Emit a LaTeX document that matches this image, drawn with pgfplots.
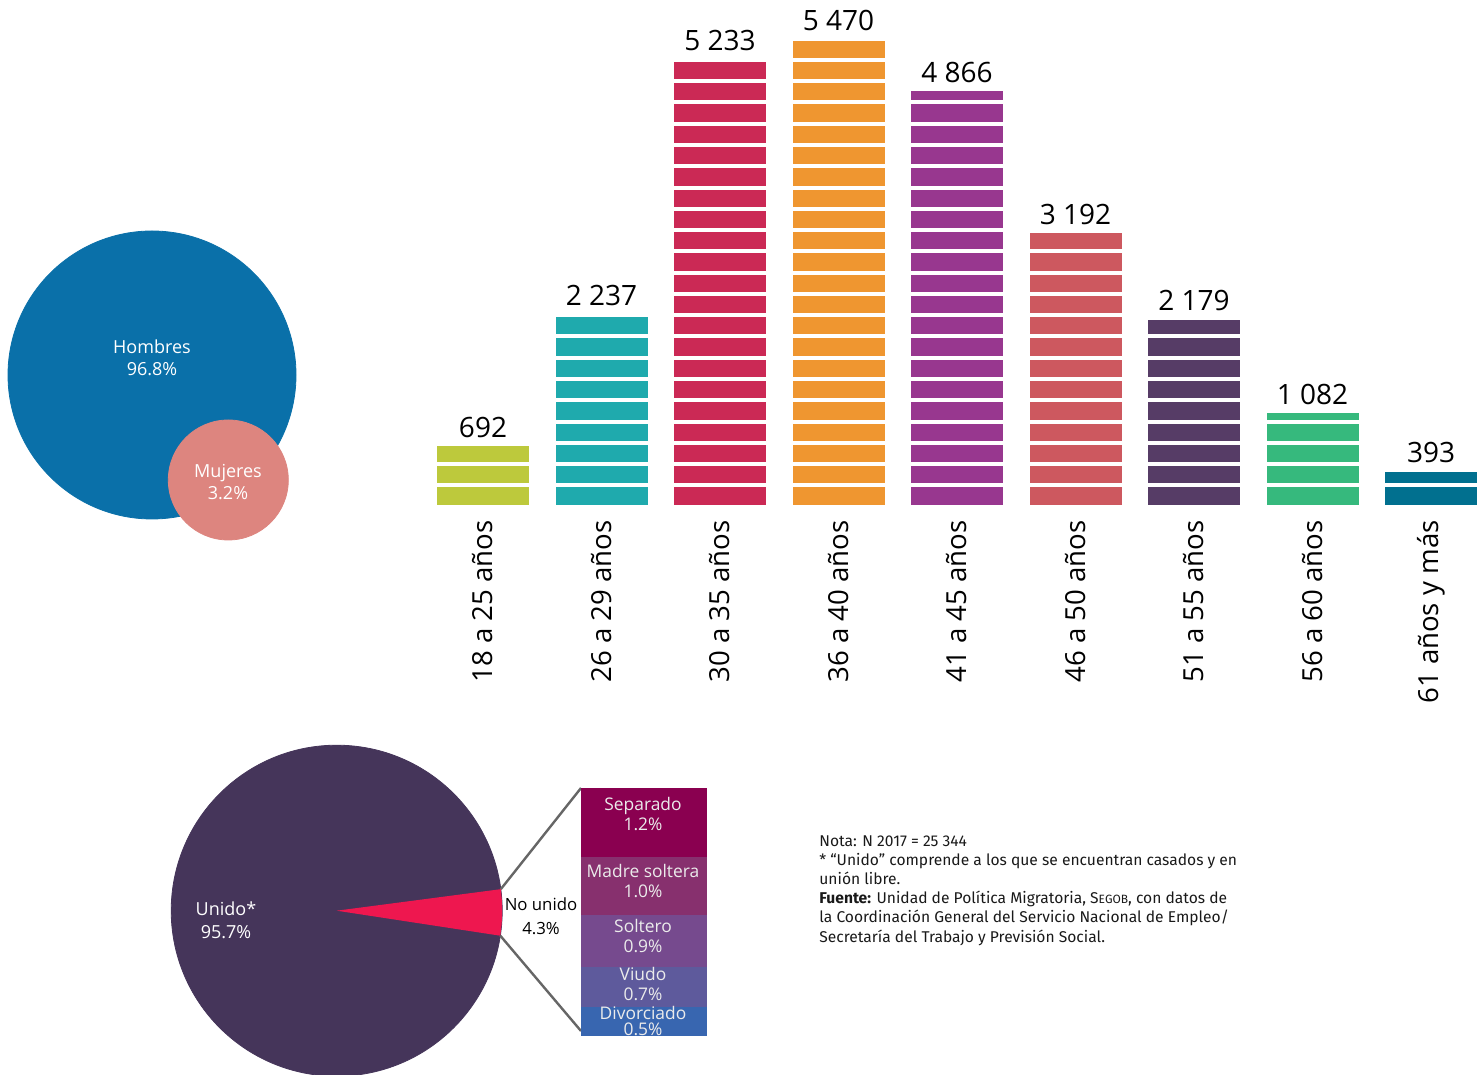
\documentclass[border=0pt]{standalone}
\usepackage{pgfplots}
\pgfplotsset{compat=1.18}
\usepackage{fontspec}
\setmainfont{Open Sans}
\newfontfamily\notefont{Fira Sans}
\definecolor{cA}{HTML}{BDC93C}
\definecolor{cB}{HTML}{1FAAAD}
\definecolor{cC}{HTML}{CB2955}
\definecolor{cD}{HTML}{EF9630}
\definecolor{cE}{HTML}{98378F}
\definecolor{cF}{HTML}{CD585F}
\definecolor{cG}{HTML}{563C66}
\definecolor{cH}{HTML}{36B97D}
\definecolor{cI}{HTML}{01708F}
\definecolor{hom}{HTML}{0A70A9}
\definecolor{muj}{HTML}{DD857F}
\definecolor{pie}{HTML}{45355A}
\definecolor{wedge}{HTML}{EE174F}
\definecolor{sSep}{HTML}{8A0050}
\definecolor{sMad}{HTML}{87306E}
\definecolor{sSol}{HTML}{764A8E}
\definecolor{sViu}{HTML}{5E5A9C}
\definecolor{sDiv}{HTML}{3866B0}
\begin{document}
\begin{tikzpicture}
\path[use as bounding box] (0,0) rectangle (741pt,537.5pt);
% ---------- base axis in pixel coordinates ----------
\begin{axis}[at={(0pt,0pt)}, anchor=south west, scale only axis,
  width=741pt, height=537.5pt, xmin=0, xmax=1482, ymin=0, ymax=1075,
  hide axis, clip=false]
  % bubbles
  \addplot[only marks, color=hom, mark=*, mark size=72pt, mark options={fill=hom, draw=hom}] coordinates {(152,700)};
  \addplot[only marks, color=muj, mark=*, mark size=30pt, mark options={fill=muj, draw=muj}] coordinates {(228.3,595)};
  % pie
  \addplot[only marks, color=pie, mark=*, mark size=82.75pt, mark options={fill=pie, draw=pie}] coordinates {(336.7,164.3)};
\end{axis}
\begin{axis}[at={(0pt,0pt)}, anchor=south west, scale only axis,
  width=741pt, height=537.5pt, xmin=0, xmax=1482, ymin=0, ymax=1075,
  hide axis, clip=false]
  \addplot[fill=wedge, draw=none] coordinates {(336.7,164.3) (500.79,185.82) (501.90,174.20) (502.19,162.52) (501.65,150.85) (500.30,139.27)} --cycle;
  % connector lines
  \addplot[color=black!60, line width=1.2pt] coordinates {(500.8,185.8) (581,287)};
  \addplot[color=black!60, line width=1.2pt] coordinates {(500.3,139.3) (581,44)};
  % labels
  \tikzset{lab/.style={text=white, align=center, font=\fontsize{9}{11}\selectfont, inner sep=0pt}}
  \node[lab] at (axis cs:152,717) {Hombres\\96.8\%};
  \node[lab] at (axis cs:228,593) {Mujeres\\3.2\%};
  \node[lab, font=\fontsize{9}{11.5}\selectfont] at (axis cs:226,154.5) {Unido*\\95.7\%};
  \node[lab, text=black, font=\fontsize{8.4}{12}\selectfont] at (axis cs:541,159) {No unido\\4.3\%};
  \node[anchor=north west, align=left, inner sep=0pt, text=black!90,
        font=\notefont\fontsize{7.8}{9.6}\selectfont] at (axis cs:819,240)
  {Nota: N 2017 = 25 344\\
   * “Unido” comprende a los que se encuentran casados y en\\
   unión libre.\\
   \textbf{Fuente:} Unidad de Política Migratoria, S{\fontsize{6}{9.6}\selectfont EGOB}, con datos de\\
   la Coordinación General del Servicio Nacional de Empleo/\\
   Secretaría del Trabajo y Previsión Social.};
\end{axis}
% ---------- bar of pie ----------
\begin{axis}[at={(290.5pt,19.5pt)}, anchor=south west, scale only axis,
  width=63pt, height=124pt, xmin=-0.5, xmax=0.5, ymin=0, ymax=4.3,
  ybar stacked, bar width=63pt, hide axis, clip=false]
  \addplot[fill=sDiv, draw=none] coordinates {(0,0.5)};
  \addplot[fill=sViu, draw=none] coordinates {(0,0.7)};
  \addplot[fill=sSol, draw=none] coordinates {(0,0.9)};
  \addplot[fill=sMad, draw=none] coordinates {(0,1.0)};
  \addplot[fill=sSep, draw=none] coordinates {(0,1.2)};
\end{axis}
\begin{axis}[at={(0pt,0pt)}, anchor=south west, scale only axis,
  width=741pt, height=537.5pt, xmin=0, xmax=1482, ymin=0, ymax=1075,
  hide axis, clip=false]
  \tikzset{lab/.style={text=white!92!black, align=center, font=\fontsize{8.7}{10}\selectfont, inner sep=0pt}}
  \node[lab] at (axis cs:643,261) {Separado\\1.2\%};
  \node[lab] at (axis cs:643,193.5) {Madre soltera\\1.0\%};
  \node[lab] at (axis cs:643,138.5) {Soltero\\0.9\%};
  \node[lab] at (axis cs:643,90.5) {Viudo\\0.7\%};
  \node[lab, font=\fontsize{8.7}{8.2}\selectfont] at (axis cs:643,54) {Divorciado\\0.5\%};
\end{axis}
% ---------- bar chart ----------
\begin{axis}[at={(211.875pt,285pt)}, anchor=south west, scale only axis,
  width=533.25pt, height=255.3pt, xmin=-0.5, xmax=8.5, ymin=0, ymax=6000,
  ybar, bar width=46pt, bar shift=0pt, axis on top,
  axis line style={draw=none}, tick style={draw=none}, major tick length=0pt,
  ytick={230,480,...,5730}, yticklabel style={opacity=0}, ymajorgrids,
  major grid style={white, line width=2pt},
  xtick={0,...,8},
  xticklabels={18 a 25 años, 26 a 29 años, 30 a 35 años, 36 a 40 años, 41 a 45 años, 46 a 50 años, 51 a 55 años, 56 a 60 años, 61 años y más},
  xticklabel style={rotate=90, anchor=east, inner xsep=7.5pt, inner ysep=0pt, font=\fontsize{13.8}{16}\selectfont},
  clip=false]
  \addplot[fill=cA, draw=none] coordinates {(0,692)};
  \addplot[fill=cB, draw=none] coordinates {(1,2237)};
  \addplot[fill=cC, draw=none] coordinates {(2,5233)};
  \addplot[fill=cD, draw=none] coordinates {(3,5470)};
  \addplot[fill=cE, draw=none] coordinates {(4,4866)};
  \addplot[fill=cF, draw=none] coordinates {(5,3192)};
  \addplot[fill=cG, draw=none] coordinates {(6,2179)};
  \addplot[fill=cH, draw=none] coordinates {(7,1082)};
  \addplot[fill=cI, draw=none] coordinates {(8,393)};
\end{axis}
% ---------- value labels (same geometry, above the stripes) ----------
\begin{axis}[at={(211.875pt,285pt)}, anchor=south west, scale only axis,
  width=533.25pt, height=255.3pt, xmin=-0.5, xmax=8.5, ymin=0, ymax=6000,
  hide axis, clip=false]
  \addplot[only marks, mark=none, nodes near coords, point meta=explicit symbolic,
    nodes near coords style={font=\fontsize{14}{16}\selectfont, text=black, anchor=south, inner sep=4pt}]
    coordinates {(0,692) [692] (1,2237) [2 237] (2,5233) [5 233] (3,5470) [5 470]
                 (4,4866) [4 866] (5,3192) [3 192] (6,2179) [2 179] (7,1082) [1 082] (8,393) [393]};
\end{axis}
\end{tikzpicture}
\end{document}
